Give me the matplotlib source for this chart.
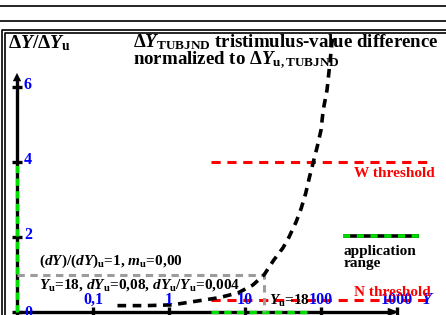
import numpy as np
import matplotlib.pyplot as plt
from matplotlib.lines import Line2D

plt.rcParams['font.family'] = 'Liberation Serif'
plt.rcParams['font.weight'] = 'bold'
plt.rcParams['mathtext.fontset'] = 'custom'
plt.rcParams['mathtext.rm'] = 'Liberation Serif:bold'
plt.rcParams['mathtext.it'] = 'Liberation Serif:italic:bold'
plt.rcParams['mathtext.bf'] = 'Liberation Serif:bold'

# TUBJND curve: normalized difference dY/dYu against Y
Y_curve = [0.21, 0.5, 1.1, 2.3, 4.5, 8.1, 12.7, 17.8, 24, 31.6, 38, 47, 55,
           63, 70, 78.5, 89, 100, 107, 120, 131, 139, 147]
dY_curve = [0.17, 0.17, 0.19, 0.29, 0.38, 0.51, 0.72, 0.99, 1.39, 1.71, 2.0,
            2.4, 2.77, 3.17, 3.57, 3.97, 4.4, 4.85, 5.39, 5.92, 6.64, 7.17, 7.45]

y_ticks = [0, 2, 4, 6]
x_ticks = [0.1, 1, 10, 100, 1000]
x_tick_labels = ['0,1', '1', '10', '100', '1000']

Y_u = 18
app_x = [3.6, 69]
app_y = [0, 4]
w_thr = 4.0
n_thr = 0.32
thr_x = [3.6, 2960]
legend_x = [195, 1950]
legend_y = 2.03

W, H = 446, 315
fig = plt.figure(figsize=(W / 100, H / 100), dpi=100)

# axes fill the figure; log x with 76 px per decade, 37.5 px per unit in y
x0, dec = 17, 76
y0, unit = 312, 37.5
ax = fig.add_axes([0, 0, 1, 1])
ax.set_xscale('log')
ax.set_xlim(10 ** (-2 - x0 / dec), 10 ** (-2 + (W - x0) / dec))
ax.set_ylim((y0 - H) / unit, y0 / unit)
ax.axis('off')


def fline(xs, ys, **kw):
    fig.add_artist(Line2D([x / W for x in xs], [1 - y / H for y in ys],
                          transform=fig.transFigure, color='black', **kw))


# page frame
fline([0, W], [6, 6], lw=1.2)
fline([0, W], [21, 21], lw=1.2)
fline([1.5, 1.5, W], [H, 29.5, 29.5], lw=1.2)
fline([4.5, 4.5, W], [H, 32.5, 32.5], lw=1.2)

xmin = 0.01
# y axis with arrow
ax.plot([xmin, xmin], [-0.2, 6.2], color='black', lw=2.4, solid_capstyle='butt')
ax.annotate('', xy=(xmin, 6.45), xytext=(xmin, 6.1),
            arrowprops=dict(arrowstyle='-|>,head_width=0.3,head_length=0.6',
                            color='black', lw=0))
# x axis with arrow
ax.plot([xmin, 900], [0, 0], color='black', lw=2.4, solid_capstyle='butt')
ax.annotate('', xy=(1150, 0), xytext=(800, 0),
            arrowprops=dict(arrowstyle='-|>,head_width=0.3,head_length=0.8',
                            color='black', lw=0))

# ticks
for v in y_ticks:
    ax.plot([xmin], [v], marker='_', ms=7, mew=2.4, color='black')
    ax.annotate(str(v), xy=(xmin, v), xytext=(7, 2 if v else -1),
                textcoords='offset pixels', color='blue', fontsize=11.5,
                ha='left', va='center')
for xt, lab in zip(x_ticks, x_tick_labels):
    ax.plot([xt], [0], marker='|', ms=7, mew=2.4, color='black')
    ax.annotate(lab, xy=(xt, 0), xytext=(0, 8), textcoords='offset pixels',
                color='blue', fontsize=11.5, ha='center', va='baseline')
ax.annotate('$Y$', xy=(1000, 0), xytext=(24, 8), textcoords='offset pixels',
            color='blue', fontsize=12, ha='left', va='baseline')

# application range (green on black)
ax.plot([xmin, xmin], app_y, color='#00e000', lw=2.4, dashes=(2.2, 1.6))
ax.plot(app_x, [0, 0], color='#00e000', lw=2.4, dashes=(2.2, 1.6))
ax.plot(legend_x, [legend_y, legend_y], color='black', lw=2.6, solid_capstyle='butt')
ax.plot(legend_x, [legend_y, legend_y], color='#00e000', lw=2.6, dashes=(2.0, 1.8))
ax.text(195, 1.52, 'application', fontsize=11, ha='left', va='baseline')
ax.text(195, 1.19, 'range', fontsize=11, ha='left', va='baseline')

# thresholds
ax.plot(thr_x, [w_thr, w_thr], color='red', lw=2.2, dashes=(3, 2.2))
ax.plot(thr_x, [n_thr, n_thr], color='red', lw=2.2, dashes=(3, 2.2))
ax.text(3100, w_thr - 0.4, 'W threshold', color='red', fontsize=11,
        ha='right', va='baseline')
ax.text(2800, n_thr + 0.12, 'N threshold', color='red', fontsize=11,
        ha='right', va='baseline')

# reference gray lines at dY/dYu = 1 and Y = Yu
ax.plot([xmin, Y_u, Y_u], [1, 1, 0], color='#9c9c9c', lw=2.2, dashes=(2.4, 1.8))

# TUBJND curve
ax.plot(Y_curve, dY_curve, color='black', lw=2.6, dashes=(2.4, 1.8))

ax.text(0.0195, 1.26, r'$(dY)/(dY)_\mathrm{u}$=1, $m_\mathrm{u}$=0,00',
        fontsize=11, ha='left', va='baseline')
ax.text(0.0195, 0.62, r'$Y_\mathrm{u}$=18, $dY_\mathrm{u}$=0,08, '
        r'$dY_\mathrm{u}/Y_\mathrm{u}$=0,004', fontsize=11, ha='left',
        va='baseline')
ax.text(20.5, 0.19, r'$Y_\mathrm{u}$=18', fontsize=11, ha='left',
        va='baseline')

# titles
fig.text(8 / W, 1 - 48 / H, r'$\Delta Y/\Delta Y_\mathrm{u}$', fontsize=14,
         ha='left', va='baseline')
fig.text(133 / W, 1 - 47 / H,
         r'$\Delta Y_\mathrm{TUBJND}$ tristimulus-value difference',
         fontsize=13.6, ha='left', va='baseline')
fig.text(133 / W, 1 - 64 / H, r'normalized to $\Delta Y_\mathrm{u,TUBJND}$',
         fontsize=13.6, ha='left', va='baseline')

fig.savefig('out.png', dpi=100)
